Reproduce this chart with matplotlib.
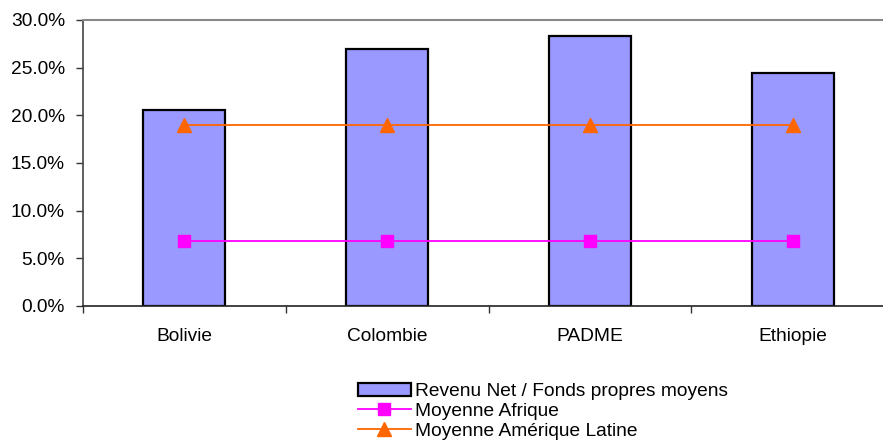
import matplotlib.pyplot as plt
from matplotlib.ticker import FuncFormatter, FixedLocator

plt.rcParams['font.family'] = ['Liberation Sans', 'DejaVu Sans']

# Data
pays = ["Bolivie", "Colombie", "PADME", "Ethiopie"]
revenu_net = [20.6, 27.0, 28.3, 24.4]
moyenne_afrique = [6.8, 6.8, 6.8, 6.8]
moyenne_amerique = [19.0, 19.0, 19.0, 19.0]

fig = plt.figure(figsize=(8.83, 4.45), dpi=100)
ax = fig.add_axes([0.094, 0.3124, 0.9185, 0.6427])

x = range(len(pays))
barres = ax.bar(x, revenu_net, width=0.404, color="#9999FF", edgecolor="black",
                linewidth=1.6, label="Revenu Net / Fonds propres moyens", zorder=2)
l_afr, = ax.plot(x, moyenne_afrique, color="#FF00FF", marker="s", markersize=8.5,
                 linewidth=1.3, label="Moyenne Afrique", zorder=3)
l_ame, = ax.plot(x, moyenne_amerique, color="#FF6600", marker="^", markersize=9.5,
                 linewidth=1.3, label="Moyenne Amérique Latine", zorder=3)

ax.set_xlim(-0.5, 3.5)
ax.set_ylim(0, 30)
ax.set_yticks([0, 5, 10, 15, 20, 25, 30])
ax.yaxis.set_major_formatter(FuncFormatter(lambda v, p: f"{v:.1f}%"))
ax.set_xticks(list(x))
ax.set_xticklabels(pays)
ax.xaxis.set_minor_locator(FixedLocator([-0.5, 0.5, 1.5, 2.5, 3.5]))

ax.tick_params(axis="x", which="major", length=0, pad=16, labelsize=13.8)
ax.tick_params(axis="x", which="minor", length=5, width=1, color="#333333", direction="out")
ax.tick_params(axis="y", length=5, width=1, color="#333333", labelsize=13.8, pad=8)

ax.spines["right"].set_visible(False)
ax.spines["top"].set_color("#888888")
ax.spines["top"].set_linewidth(1.5)
ax.spines["left"].set_color("#444444")
ax.spines["left"].set_linewidth(1.2)
ax.spines["bottom"].set_color("#222222")
ax.spines["bottom"].set_linewidth(1.2)

fig.legend([barres, l_afr, l_ame],
           ["Revenu Net / Fonds propres moyens", "Moyenne Afrique", "Moyenne Amérique Latine"],
           loc="upper left", bbox_to_anchor=(0.405, 0.14), frameon=False,
           fontsize=13.8, handlelength=2.8, handletextpad=0.2,
           labelspacing=0.12, borderpad=0, borderaxespad=0)

fig.savefig("out.png", dpi=100)
